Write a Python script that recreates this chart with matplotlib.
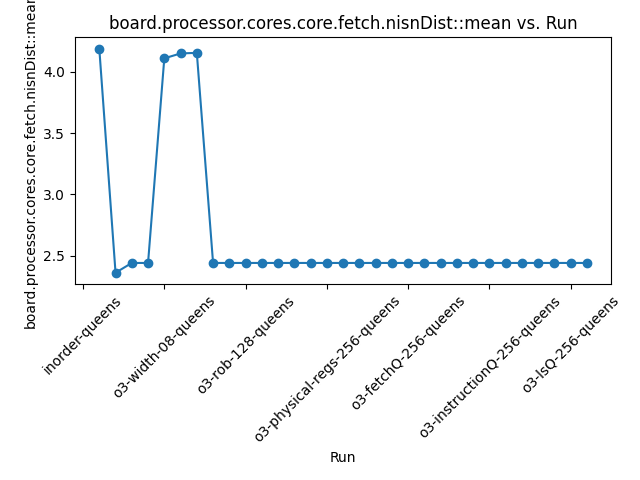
import matplotlib
matplotlib.use('Agg')
import matplotlib.pyplot as plt
import numpy as np

stat = 'board.processor.cores.core.fetch.nisnDist::mean'

# mean values per run, in run order
values = [4.19, 2.36, 2.44, 2.44, 4.11, 4.15, 4.155,
          2.44, 2.44, 2.44, 2.44, 2.44, 2.44, 2.44, 2.44, 2.44,
          2.44, 2.44, 2.44, 2.44, 2.44, 2.44, 2.44, 2.44, 2.44,
          2.44, 2.44, 2.44, 2.44, 2.44, 2.44]
runs = np.arange(1, len(values) + 1)

tick_pos = [0, 5, 10, 15, 20, 25, 30]
tick_labels = ['inorder-queens', 'o3-width-08-queens', 'o3-rob-128-queens',
               'o3-physical-regs-256-queens', 'o3-fetchQ-256-queens',
               'o3-instructionQ-256-queens', 'o3-lsQ-256-queens']

fig, ax = plt.subplots(figsize=(6.4, 4.8), dpi=100)
ax.plot(runs, values, marker='o')
ax.set_xticks(tick_pos)
ax.set_xticklabels(tick_labels, rotation=45)
ax.set_title(stat + ' vs. Run')
ax.set_xlabel('Run')
ax.set_ylabel(stat)
plt.tight_layout()
plt.savefig('out.png')
